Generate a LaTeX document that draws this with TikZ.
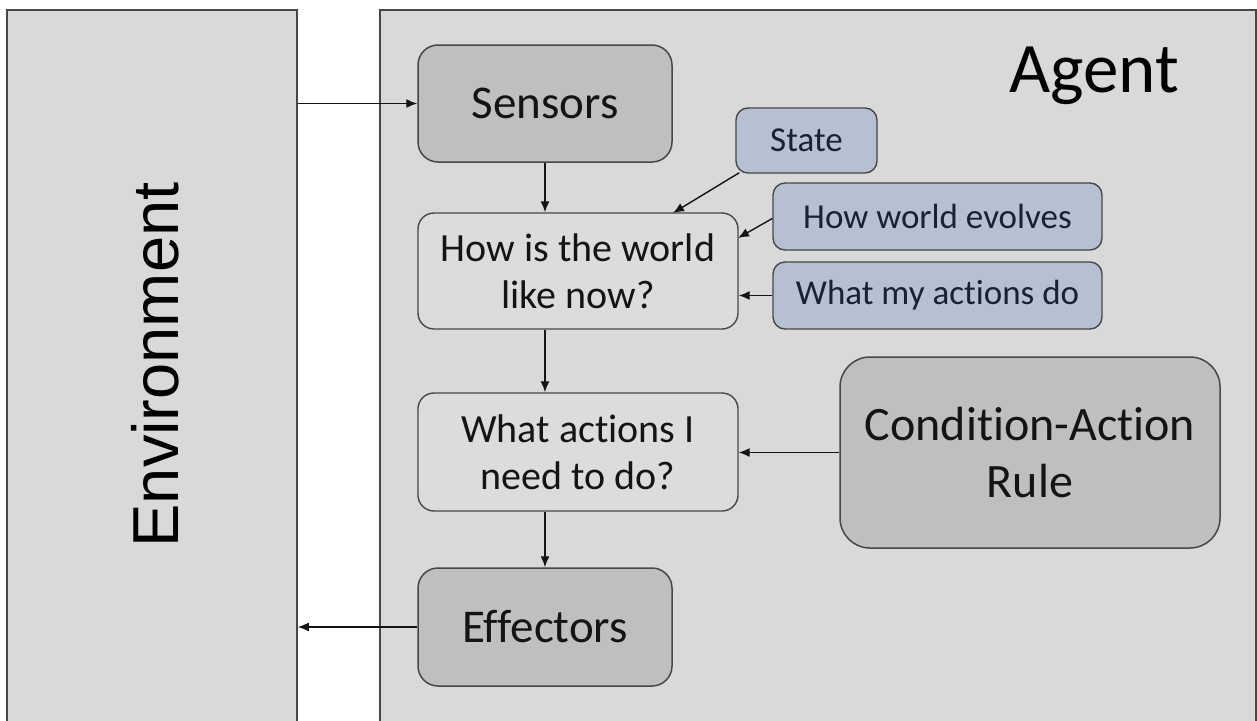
\documentclass[tikz,border=0pt]{standalone}
\usepackage{fontspec}
\setmainfont[Ligatures={NoCommon}]{Carlito}
\newfontfamily\envfont{Liberation Sans}
\usetikzlibrary{arrows.meta}
\definecolor{panel}{HTML}{D9D9D9}
\definecolor{darkbox}{HTML}{BFBFBF}
\definecolor{lightbox}{HTML}{DCDCDC}
\definecolor{bluebox}{HTML}{B6C0D3}
\definecolor{edge}{HTML}{474747}
\definecolor{ink}{HTML}{141414}
\definecolor{navyink}{HTML}{1A2232}
\begin{document}
\begin{tikzpicture}[x=1pt,y=-1pt,
  panelbox/.style={draw=edge,fill=panel,line width=1.6pt,inner sep=0pt},
  graybox/.style={draw=edge,fill=darkbox,line width=1.5pt,rounded corners=20pt,text=ink,inner sep=0pt,align=center},
  whitebox/.style={draw=edge,fill=lightbox,line width=1.4pt,rounded corners=16pt,text=ink,inner sep=0pt,align=center,
     minimum width=320pt,font=\fontsize{40}{47}\selectfont},
  bluenode/.style={draw=edge,fill=bluebox,line width=1.4pt,rounded corners=12pt,text=navyink,inner sep=0pt,align=center,
     minimum height=67pt,font=\fontsize{35}{42}\selectfont},
  conn/.style={draw=ink,line width=1.4pt,-{Latex[length=11pt,width=9pt]}}
]
\useasboundingbox (0,0) rectangle (1257,720);
\fill[white] (0,0) rectangle (1257,720);

% panels
\node[panelbox,minimum width=290pt,minimum height=730pt] (env) at (152,375) {};
\node[panelbox,minimum width=876pt,minimum height=730pt] (agent) at (818,375) {};
\node[rotate=90,inner sep=0pt,text=black,font=\envfont\fontsize{65}{78}\selectfont] (envlabel) at (155,365) {Environment};
\node[anchor=base west,inner sep=0pt,text=black,font=\fontsize{71}{85}\selectfont] (agentlabel) at (1009,92) {Agent};

% main boxes
\node[graybox,minimum width=254pt,minimum height=117pt,font=\fontsize{47}{56}\selectfont] (sensors) at (545,103.5) {Sensors};
\node[whitebox,minimum height=116pt] (world) at (578,271) {How is the world\\like now?};
\node[whitebox,minimum height=118pt] (actions) at (578,452) {What actions I\\need to do?};
\node[graybox,minimum width=254pt,minimum height=118pt,font=\fontsize{47}{56}\selectfont] (effectors) at (545,627) {Effectors};

% knowledge boxes
\node[bluenode,minimum width=141pt,minimum height=65pt] (state) at (806.5,140.5) {State};
\node[bluenode,minimum width=329pt] (evolves) at (937.5,216.5) {How world evolves};
\node[bluenode,minimum width=329pt] (myact) at (937.5,295.5) {What my actions do};
\node[graybox,rounded corners=30pt,minimum width=380pt,minimum height=191pt,font=\fontsize{48}{57}\selectfont] (rule) at (1030,452.5) {Condition-Action\\Rule};

% spine coordinates
\coordinate (spine) at (545,0);
\coordinate (evin) at (738,238);
\coordinate (statein) at (673,213);

% connectors
\draw[conn] (env.east |- sensors.west) -- (sensors.west);
\draw[conn] (effectors.west) -- (env.east |- effectors.west);
\draw[conn] (sensors.south) -- (spine |- world.north);
\draw[conn] (spine |- world.south) -- (spine |- actions.north);
\draw[conn] (spine |- actions.south) -- (effectors.north);
\draw[conn] (state.south west) ++(4,-1) -- (statein);
\draw[conn] (evolves.west) ++(0,2) -- (evin);
\draw[conn] (myact.west) -- (world.east |- myact.west);
\draw[conn] (rule.west) -- (actions.east |- rule.west);
\end{tikzpicture}
\end{document}
